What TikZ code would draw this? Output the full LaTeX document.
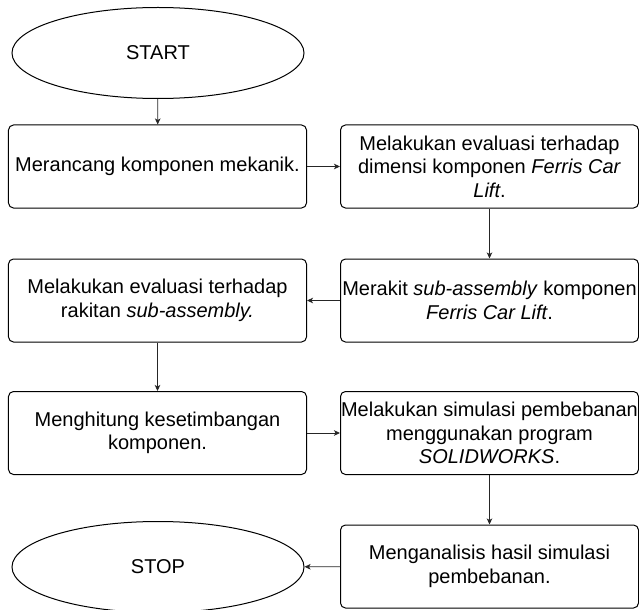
\documentclass[tikz,border=0pt]{standalone}
\usepackage{fontspec}
\setmainfont{Liberation Sans}
\usetikzlibrary{shapes.geometric,arrows.meta}
\begin{document}
\begin{tikzpicture}[x=1bp,y=-1bp,
  every node/.style={font=\fontsize{20bp}{23.5bp}\selectfont, align=center, inner sep=0pt},
  stepbox/.style={draw=black, line width=1bp, rounded corners=5bp, minimum width=298bp, minimum height=83bp},
  term/.style={draw=black, line width=1bp, ellipse, minimum width=292bp, minimum height=91bp},
  arr/.style={draw=black!85, line width=0.9bp, -{Stealth[length=6bp,width=5.5bp,inset=1.5bp]}}
]
\useasboundingbox (0,0) rectangle (639,610);
\node[term] (start) at (158,53) {START};
\node[stepbox] (b1) at (157.5,166.5) {Merancang komponen mekanik.};
\node[stepbox] (b2) at (489.5,166.5) {Melakukan evaluasi terhadap\\dimensi komponen \textit{Ferris Car}\\\textit{Lift}.};
\node[stepbox] (b3) at (489.5,300.5) {Merakit \textit{sub-assembly} komponen\\\textit{Ferris Car Lift}.};
\node[stepbox] (b4) at (157.5,300.5) {Melakukan evaluasi terhadap\\rakitan \textit{sub-assembly.}};
\node[stepbox] (b5) at (157.5,433) {Menghitung kesetimbangan\\komponen.};
\node[stepbox] (b6) at (489.5,433) {Melakukan simulasi pembebanan\\menggunakan program\\\textit{SOLIDWORKS}.};
\node[stepbox] (b7) at (489.5,566.5) {Menganalisis hasil simulasi\\pembebanan.};
\node[term] (stop) at (158,567) {STOP};
\draw[arr] (start) -- (b1);
\draw[arr] (b1) -- (b2);
\draw[arr] (b2) -- (b3);
\draw[arr] (b3) -- (b4);
\draw[arr] (b4) -- (b5);
\draw[arr] (b5) -- (b6);
\draw[arr] (b6) -- (b7);
\draw[arr] (b7) -- (stop);
\end{tikzpicture}
\end{document}
